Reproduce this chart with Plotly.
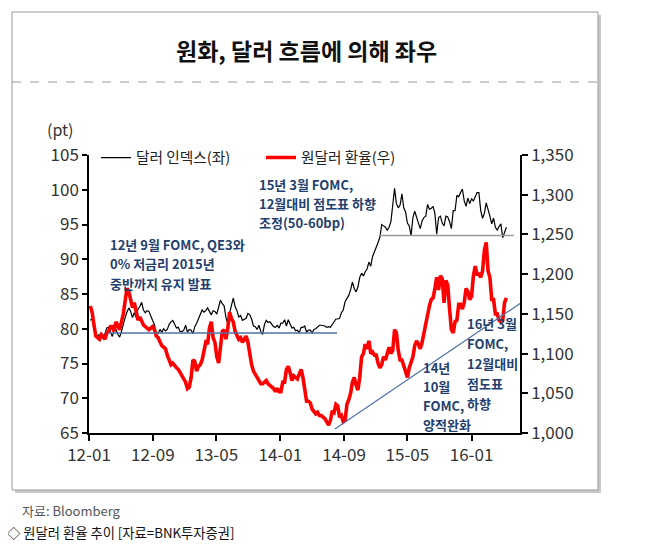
import pandas as pd
import plotly.graph_objects as go

# ---------------- data (weekly) ----------------
dxy_2012 = [81.2, 81.5, 80.4, 79.2,
            79.0, 79.2, 79.3, 78.5,
            79.4, 80.1, 80.2, 79.5, 78.9,
            79.8, 79.9, 79.2, 78.8,
            79.6, 80.7, 81.6, 82.4,
            83.0, 82.5, 81.6, 82.3, 81.6,
            82.8, 83.2, 83.8, 82.7,
            82.3, 82.6, 82.5, 81.7, 81.2,
            80.6, 79.2, 79.3, 79.9,
            79.5, 80.0, 79.7, 79.9,
            80.6, 81.0, 81.2, 80.5, 80.1,
            80.2, 79.6, 79.6, 79.8]
dxy_2013 = [80.5, 79.5, 79.9, 79.8,
            79.3, 80.3, 80.8, 81.5,
            82.2, 82.7, 82.4, 82.6, 83.0,
            82.4, 82.0, 82.6, 82.5,
            82.1, 83.2, 84.1, 83.6, 83.3,
            81.6, 80.7, 82.3, 83.3,
            84.4, 83.2, 82.6, 81.7,
            81.9, 81.2, 81.3, 81.5, 82.2,
            82.0, 81.4, 80.4, 80.3,
            79.9, 80.5, 79.6, 79.2,
            80.6, 81.2, 80.9, 81.0, 80.7,
            80.3, 80.2, 80.5, 80.1]
dxy_2014 = [80.8, 80.8, 81.3, 80.4, 81.3,
            80.7, 80.1, 80.2, 79.7,
            79.8, 79.4, 80.2, 80.2,
            80.4, 79.5, 79.8, 79.8,
            79.4, 79.9, 80.0, 80.3, 80.5,
            80.5, 80.5, 80.4, 80.2,
            80.3, 80.2, 80.6, 81.0,
            81.4, 81.4, 81.5, 82.3, 82.7,
            83.9, 84.4, 84.8, 85.6,
            86.7, 85.8, 85.3, 86.0, 87.4,
            88.0, 87.6, 88.2, 88.6,
            89.6, 89.0, 90.4, 91.0]
dxy_2015 = [91.8, 92.4, 93.2, 95.0, 94.8,
            94.6, 94.2, 94.6, 95.4,
            97.6, 100.2, 98.0, 97.4,
            97.8, 99.4, 97.4, 96.8,
            95.2, 94.8, 93.4, 96.0, 96.9,
            96.2, 95.2, 94.4, 95.5,
            96.0, 96.2, 97.9, 97.2, 97.3,
            97.6, 96.6, 93.6, 96.0,
            96.2, 95.2, 94.8, 96.2,
            96.1, 95.4, 94.4, 97.0, 97.0,
            99.2, 99.0, 99.6, 100.1,
            98.4, 97.6, 98.8, 98.0]
dxy_2016 = [98.7, 98.4, 99.0, 99.6, 99.6,
            97.0, 95.9, 96.6, 98.1,
            97.3, 96.2, 95.1, 95.9,
            94.6, 94.2, 94.7, 95.1, 93.1,
            93.8, 94.6]

krw_2012 = [1160, 1152, 1136, 1122,
            1120, 1118, 1124, 1122,
            1118, 1126, 1128, 1134, 1134,
            1128, 1140, 1136, 1130,
            1140, 1150, 1166, 1182,
            1178, 1168, 1158, 1164, 1150,
            1142, 1146, 1140, 1136,
            1134, 1132, 1130, 1132, 1134,
            1130, 1122, 1120, 1114,
            1110, 1108, 1106, 1098,
            1090, 1086, 1088, 1084, 1082,
            1080, 1076, 1072, 1070]
krw_2013 = [1064, 1056, 1058, 1070,
            1092, 1090, 1078, 1084,
            1086, 1092, 1106, 1114, 1112,
            1132, 1140, 1120, 1114,
            1096, 1088, 1110, 1128, 1130,
            1118, 1132, 1152, 1144,
            1140, 1128, 1124, 1118,
            1120, 1114, 1118, 1122, 1114,
            1096, 1086, 1078, 1074,
            1072, 1066, 1062, 1062,
            1064, 1066, 1062, 1060, 1058,
            1056, 1052, 1056, 1052]
krw_2014 = [1052, 1064, 1064, 1080, 1084,
            1076, 1066, 1072, 1070,
            1068, 1074, 1080, 1070,
            1056, 1040, 1040, 1038,
            1030, 1026, 1024, 1026, 1022,
            1022, 1020, 1018, 1014,
            1010, 1016, 1028, 1026,
            1036, 1034, 1020, 1022, 1014,
            1016, 1036, 1042, 1050,
            1064, 1070, 1060, 1054, 1070,
            1096, 1100, 1112, 1106,
            1116, 1100, 1102, 1098]
krw_2015 = [1098, 1088, 1082, 1086, 1096,
            1092, 1100, 1108, 1100,
            1104, 1130, 1126, 1104,
            1092, 1092, 1084, 1076,
            1070, 1082, 1090, 1096, 1110,
            1116, 1112, 1106, 1114,
            1126, 1138, 1146, 1160, 1168,
            1170, 1182, 1196, 1180,
            1198, 1194, 1164, 1192,
            1186, 1156, 1130, 1126, 1140,
            1142, 1162, 1162, 1156,
            1164, 1182, 1178, 1168]
krw_2016 = [1172, 1198, 1210, 1200, 1200,
            1196, 1204, 1230, 1240,
            1204, 1196, 1168, 1168,
            1150, 1150, 1142, 1140, 1142,
            1164, 1170]

dxy = dxy_2012 + dxy_2013 + dxy_2014 + dxy_2015 + dxy_2016
krw = krw_2012 + krw_2013 + krw_2014 + krw_2015 + krw_2016
dates = pd.date_range("2012-01-06", periods=len(dxy), freq="7D")

tick_dates = ["2012-01-01", "2012-09-01", "2013-05-01", "2014-01-01",
              "2014-09-01", "2015-05-01", "2016-01-01"]
tick_labels = ["12-01", "12-09", "13-05", "14-01", "14-09", "15-05", "16-01"]

# reference lines drawn on the chart
flat_line_dates = ["2012-03-15", "2014-08-05"]
flat_line_value = 79.4
top_line_dates = ["2015-01-15", "2016-06-10"]
top_line_value = 93.4
trend_line_dates = ["2014-07-28", "2016-07-04"]
trend_line_values = [1005, 1163]

# note texts (one entry per printed line)
note_fomc_2015 = ["15년 3월 FOMC,", "12월대비 점도표 하향", "조정(50-60bp)"]
note_fomc_2012 = ["12년 9월 FOMC, QE3와", "0% 저금리 2015년", "중반까지 유지 발표"]
note_fomc_2014 = ["14년", "10월", "FOMC,", "양적완화"]
note_fomc_2016 = ["16년 3월", "FOMC,", "12월대비", "점도표", "하향"]

# ---------------- layout helpers (screen pixel coords; page has 8px body margin) ----------------
OFF = 8
W, H = 646 - OFF, 545 - OFF
SL, SR, ST, SB = 89, 520, 155, 433


def px(x):
    return (x - SL) / (SR - SL)


def py(y):
    return (SB - y) / (SB - ST)


FONT = "Noto Sans CJK KR"
NAVY = "#243F6E"

fig = go.Figure()
fig.add_trace(go.Scatter(x=dates, y=dxy, mode="lines", name="달러 인덱스(좌)",
                         line=dict(color="#000000", width=1.2), yaxis="y"))
fig.add_trace(go.Scatter(x=dates, y=krw, mode="lines", name="원달러 환율(우)",
                         line=dict(color="#FF0000", width=3.6), yaxis="y2"))

shapes = [
    # shadow + frame
    dict(type="rect", xref="paper", yref="paper", x0=px(15), x1=px(601), y0=py(15), y1=py(493),
         line=dict(width=0), fillcolor="#C8C8C8", layer="below"),
    dict(type="rect", xref="paper", yref="paper", x0=px(12), x1=px(598), y0=py(12), y1=py(490),
         line=dict(color="#9A9A9A", width=1), fillcolor="#FFFFFF", layer="below"),
    dict(type="line", xref="paper", yref="paper", x0=px(12), x1=px(598), y0=py(82), y1=py(82),
         line=dict(color="#9A9A9A", width=1, dash="dash")),
    # chart lines
    dict(type="line", xref="x", yref="y", x0=flat_line_dates[0], x1=flat_line_dates[1],
         y0=flat_line_value, y1=flat_line_value, line=dict(color="#4F72A8", width=1.5)),
    dict(type="line", xref="x", yref="y", x0=top_line_dates[0], x1=top_line_dates[1],
         y0=top_line_value, y1=top_line_value, line=dict(color="#9A9A9A", width=1.5)),
    dict(type="line", xref="x", yref="y2", x0=trend_line_dates[0], x1=trend_line_dates[1],
         y0=trend_line_values[0], y1=trend_line_values[1], line=dict(color="#4F72A8", width=1.2)),
]

annos = [
    dict(text="원화, 달러 흐름에 의해 좌우", x=px(306), y=py(50), xanchor="center", yanchor="middle",
         font=dict(size=23, color="#111111", family=FONT, weight="bold")),
    dict(text="(pt)", x=px(60), y=py(129), xanchor="center", yanchor="middle",
         font=dict(size=16, color="#333333", family=FONT)),
    dict(text="자료: Bloomberg", x=px(20), y=py(510), xanchor="left", yanchor="middle",
         font=dict(size=13, color="#555555", family=FONT)),
    dict(text="◇ 원달러 환율 추이 [자료=BNK투자증권]", x=px(5), y=py(532), xanchor="left", yanchor="middle",
         font=dict(size=13.3, color="#111111", family=FONT)),
]


def add_note(lines, x, y_first, step):
    for i, t in enumerate(lines):
        annos.append(dict(text=t, x=px(x), y=py(y_first + i * step), xanchor="left", yanchor="middle",
                          font=dict(size=13, color=NAVY, family=FONT, weight="bold")))


add_note(note_fomc_2015, 257, 184, 19)
add_note(note_fomc_2012, 108, 244, 19.5)
add_note(note_fomc_2014, 421, 367, 19.3)
add_note(note_fomc_2016, 465, 323, 20)

for a in annos:
    a.update(xref="paper", yref="paper", showarrow=False)

tickfont = dict(size=17, color="#333333", family=FONT)

fig.update_layout(
    width=W, height=H,
    margin=dict(l=SL - OFF, r=W - (SR - OFF), t=ST - OFF, b=H - (SB - OFF), pad=0),
    paper_bgcolor="#FFFFFF", plot_bgcolor="rgba(0,0,0,0)",
    font=dict(family=FONT, size=14, color="#333333"),
    showlegend=True,
    legend=dict(orientation="h", x=px(96), y=py(158), xanchor="left", yanchor="middle",
                bgcolor="rgba(0,0,0,0)", font=dict(size=14.7, color="#222222", family=FONT),
                itemwidth=30, entrywidth=120, entrywidthmode="pixels", tracegroupgap=0),
    xaxis=dict(type="date", range=["2012-01-01", "2016-07-04"],
               tickmode="array", tickvals=tick_dates, ticktext=tick_labels,
               ticks="outside", ticklen=6, tickwidth=1.5, tickcolor="#000000",
               showline=True, linecolor="#000000", linewidth=1.5,
               showgrid=False, zeroline=False, tickfont=tickfont),
    yaxis=dict(range=[65, 105], dtick=5, tick0=65,
               ticks="outside", ticklen=5, tickwidth=1.5, tickcolor="#000000",
               showline=True, linecolor="#000000", linewidth=1.5,
               showgrid=False, zeroline=False, tickfont=tickfont),
    yaxis2=dict(range=[1000, 1350], dtick=50, tick0=1000, overlaying="y", side="right",
                tickformat=",", ticks="outside", ticklen=6, tickwidth=1.5, tickcolor="#000000",
                showline=True, linecolor="#000000", linewidth=1.5,
                showgrid=False, zeroline=False, tickfont=tickfont),
    shapes=shapes,
    annotations=annos,
)

fig.write_html("out.html")
